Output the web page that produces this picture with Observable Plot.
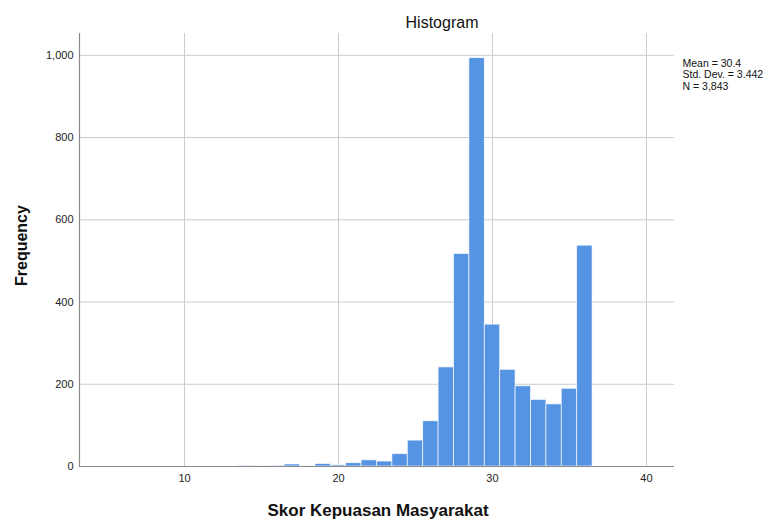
<!DOCTYPE html>
<html>
<head>
<meta charset="utf-8">
<script src="https://cdn.jsdelivr.net/npm/d3@7"></script>
<script src="https://cdn.jsdelivr.net/npm/@observablehq/plot@0.6"></script>
<style>
  html, body { margin: 0; padding: 0; background: #ffffff; }
  #chart { width: 772px; height: 519px; }
</style>
</head>
<body>
<div id="chart"></div>
<script>
// ---- data ----
const binCenters = [14, 15, 16, 17, 18, 19, 20, 21, 22, 23, 24, 25, 26, 27, 28, 29, 30, 31, 32, 33, 34, 35, 36];
const counts     = [2, 1, 2, 5, 1, 6, 3, 8, 15, 12, 30, 63, 110, 241, 517, 993, 345, 235, 195, 162, 151, 189, 537];
const binWidth = 1;
const xDomain = [3.18, 41.82];
const yDomain = [0, 1053];
const xTicks = [10, 20, 30, 40];
const yTicks = [0, 200, 400, 600, 800, 1000];
const titleText = "Histogram";
const xLabel = "Skor Kepuasan Masyarakat";
const yLabel = "Frequency";
const statsLines = ["Mean = 30.4", "Std. Dev. = 3.442", "N = 3,843"];

const bins = binCenters.map((c, i) => ({x1: c - binWidth / 2, x2: c + binWidth / 2, count: counts[i]}));

const chart = Plot.plot({
  width: 772,
  height: 519,
  marginLeft: 79,
  marginRight: 98,
  marginTop: 33,
  marginBottom: 53,
  style: {fontFamily: "'Liberation Sans', Arial, sans-serif", fontSize: "11px", color: "#222", background: "#ffffff"},
  x: {domain: xDomain, label: null},
  y: {domain: yDomain, label: null},
  marks: [
    Plot.gridX(xTicks, {stroke: "#cccccc", strokeOpacity: 1}),
    Plot.gridY(yTicks, {stroke: "#cccccc", strokeOpacity: 1}),
    Plot.rectY(bins, {x1: "x1", x2: "x2", y: "count", fill: "#5593e3", stroke: "#ffffff", strokeWidth: 0.8, strokeOpacity: 0.8}),
    Plot.ruleX([xDomain[0]], {stroke: "#8a8a8a", strokeWidth: 1.2}),
    Plot.ruleY([0], {stroke: "#8a8a8a", strokeWidth: 1.2}),
    Plot.axisX(xTicks, {tickSize: 0, tickPadding: 8, fontSize: 11, label: null}),
    Plot.axisY(yTicks, {tickSize: 0, tickPadding: 6, fontSize: 11, tickFormat: d3.format(","), label: null}),
    Plot.text([titleText], {frameAnchor: "top", dx: 65, dy: -17, fontSize: 16, fill: "#111"}),
    Plot.text([xLabel], {frameAnchor: "bottom", dx: 1, dy: 49, fontSize: 17, fontWeight: "bold", fill: "#111"}),
    Plot.text([yLabel], {frameAnchor: "left", dx: -58, dy: 36, rotate: -90, fontSize: 16, fontWeight: "bold", fill: "#111"}),
    Plot.text([statsLines.join("\n")], {frameAnchor: "top-right", dx: 8, dy: 25, textAnchor: "start", lineAnchor: "top", fontSize: 10.5, lineHeight: 1.1, fill: "#111"})
  ]
});
document.getElementById("chart").appendChild(chart);
</script>
</body>
</html>
